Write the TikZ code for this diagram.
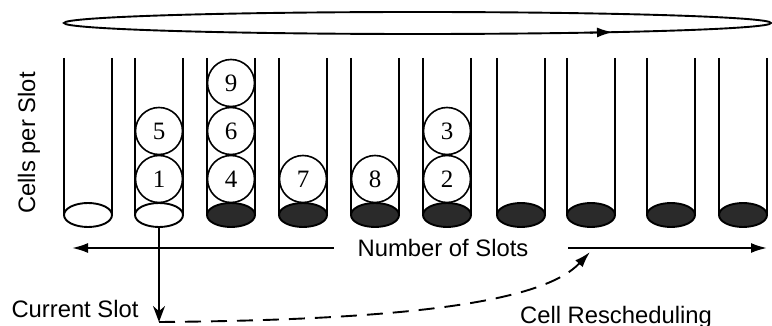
\documentclass[tikz,border=0pt]{standalone}
\usepackage{fontspec}
\setmainfont{Liberation Serif}
\setsansfont{Liberation Sans}
\usetikzlibrary{arrows.meta, positioning}
\definecolor{SlotDark}{HTML}{2A2A2A}

\begin{document}
\begin{tikzpicture}[x=0.5pt, y=-0.5pt, line width=0.95pt,
        ball/.style={circle, draw, line width=0.8pt, minimum size=23.5pt, inner sep=0pt, font=\fontsize{12.5}{13}\selectfont},
        lbl/.style={font=\sffamily\fontsize{11.9}{14}\selectfont, inner sep=0pt},
        tip/.style={-{Latex[length=8pt, width=5pt]}}]
        \useasboundingbox (0,0) rectangle (772,326);

        % Rotation loop
        \draw (417.5,23) ellipse [x radius=176.75pt, y radius=5.5pt];
        \draw[tip] (590,32.6) -- (613,32.2);

        % Slots
        \foreach \c/\f in {88/white, 159/white, 231/SlotDark, 303/SlotDark, 375/SlotDark, 447/SlotDark, 521/SlotDark, 591/SlotDark, 671/SlotDark, 743/SlotDark} {
            \draw (\c-24,58) -- (\c-24,215) (\c+24,58) -- (\c+24,215);
            \filldraw[fill=\f] (\c,215) ellipse [x radius=12pt, y radius=6pt];
        }

        % Cells
        \foreach \n/\x/\y in {1/159/179, 5/159/131, 4/231/179, 6/231/131, 9/231/83, 7/303/179, 8/375/179, 2/447/179, 3/447/131}
            \node[ball] (cell\n) at (\x,\y) {\n};

        \coordinate (slot2) at (159,227);
        \coordinate (cur) at (159,322);
        \coordinate (resch) at (590,252);
        \coordinate (nl) at (72,248);
        \coordinate (nr) at (767,248);

        % Labels
        \node[lbl, rotate=90] (cps) at (29,143) {Cells per Slot};
        \node[lbl] (nos) at (443,248) {Number of Slots};
        \node[lbl] (cs) at (75,309) {Current Slot};
        \node[lbl] (cr) at (616,317) {Cell Rescheduling};

        % Arrows
        \draw[tip, shorten <=11.5pt] (nos.west) -- (nl);
        \draw[tip, shorten <=19.5pt] (nos.east) -- (nr);
        \draw[-{Stealth[length=8pt, width=6pt]}] (slot2) -- (cur);
        \draw[tip, dash pattern=on 8pt off 5pt] (cur) .. controls (420,320) and (545,300) .. (resch);

    \end{tikzpicture}
\end{document}
